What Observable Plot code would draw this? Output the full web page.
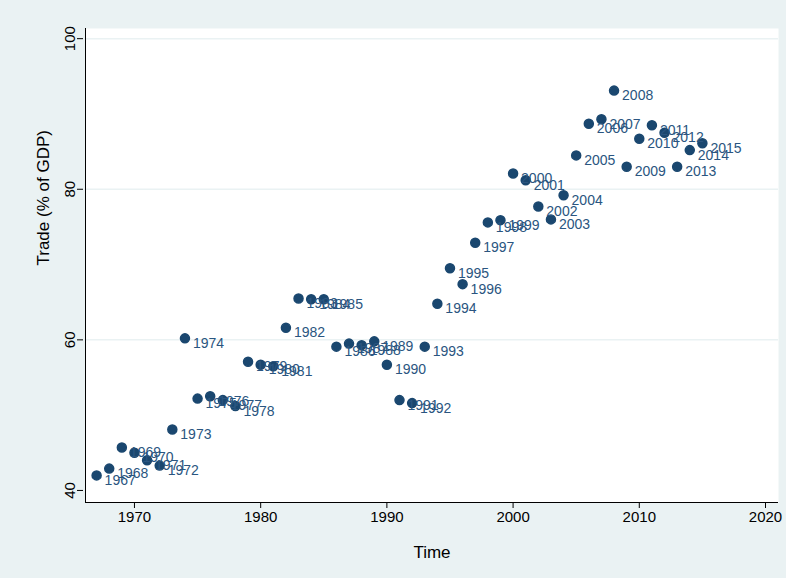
<!DOCTYPE html>
<html><head><meta charset="utf-8">
<script src="https://cdn.jsdelivr.net/npm/d3@7"></script>
<script src="https://cdn.jsdelivr.net/npm/@observablehq/plot@0.6"></script>
<style>body{margin:0;background:#eaf2f3}</style>
</head><body><div id="chart"></div>
<script>
const years = d3.range(1967, 2016)
const trade = [42.0,42.9,45.7,45.0,44.0,43.3,48.1,60.2,52.2,52.5,52.0,51.2,57.1,56.7,56.5,61.6,65.5,65.4,65.4,59.1,59.5,59.3,59.8,56.7,52.0,51.6,59.1,64.8,69.5,67.4,72.9,75.6,75.9,82.1,81.2,77.7,76.0,79.2,84.5,88.7,89.3,93.1,83.0,86.7,88.5,87.5,83.0,85.2,86.1]
const xTicks = [1970,1980,1990,2000,2010,2020]
const yTicks = [40,60,80,100]

const data = years.map((y, i) => ({year: y, trade: trade[i]}))
const navy = "#1a476f"

const chart = Plot.plot({
  width: 786, height: 578,
  marginLeft: 85, marginRight: 8, marginTop: 28, marginBottom: 76,
  style: {background: "#eaf2f3", fontFamily: "Liberation Sans, Arial, sans-serif", fontSize: "15px", color: "#000"},
  x: {domain: [1966.12, 2021.03], label: null},
  y: {domain: [38.4, 101.35], label: null},
  marks: [
    Plot.frame({fill: "white", stroke: null}),
    Plot.gridY(yTicks.slice(1), {stroke: "#eaf2f3", strokeOpacity: 1, strokeWidth: 1.5}),
    Plot.axisX({ticks: xTicks, tickFormat: d => String(d), label: null, fontSize: 15, tickSize: 6}),
    Plot.axisY({ticks: yTicks, label: null, tickRotate: -90, fontSize: 15, textAnchor: "middle", tickSize: 6, dx: -2}),
    Plot.ruleX([1966.12], {stroke: "#000"}),
    Plot.ruleY([38.4], {stroke: "#000"}),
    Plot.dot(data, {x: "year", y: "trade", r: 4.5, fill: navy, stroke: navy}),
    Plot.text(data, {x: "year", y: "trade", text: d => String(d.year), dx: 8, dy: 5, textAnchor: "start", fill: "#2a5580", fontSize: 14}),
    Plot.text(["Time"], {frameAnchor: "bottom", dy: 55, fontSize: 17, fill: "#000"}),
    Plot.text(["Trade (% of GDP)"], {frameAnchor: "left", dx: -42, rotate: -90, fontSize: 17, fill: "#000"})
  ]
})
document.getElementById("chart").append(chart)
</script></body></html>
